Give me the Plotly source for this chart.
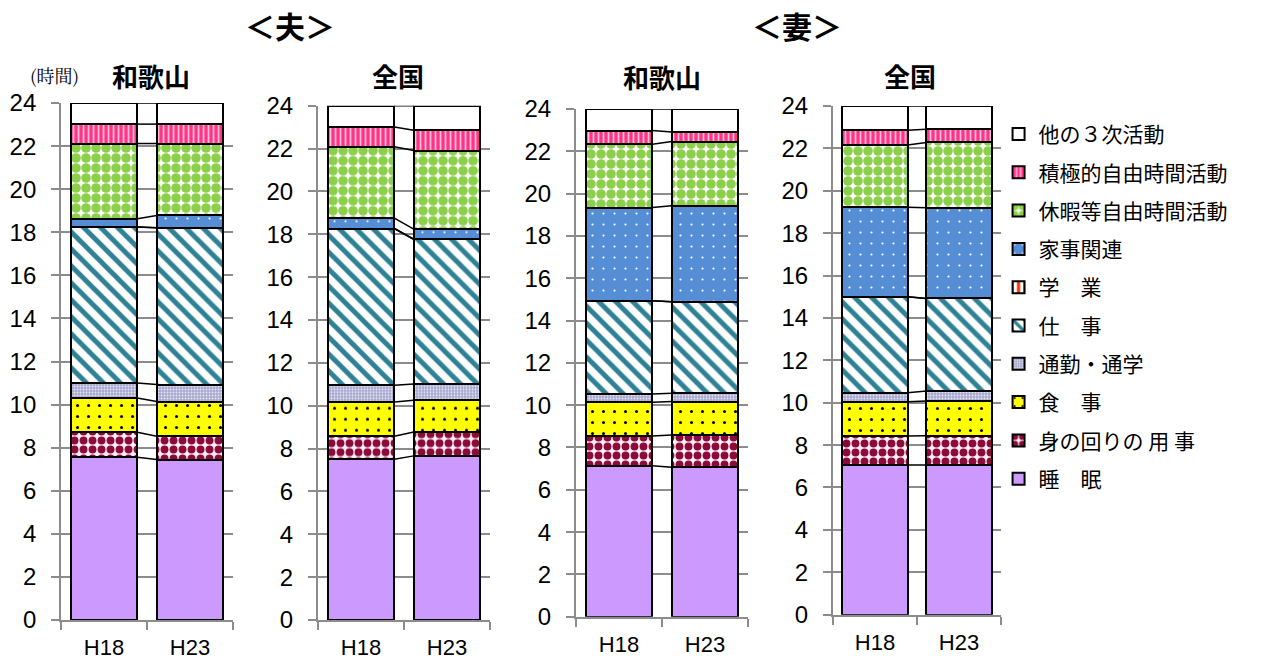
import plotly.graph_objects as go

years = ["H18", "H23"]
panels = ["夫・和歌山", "夫・全国", "妻・和歌山", "妻・全国"]
panel_titles = ["和歌山", "全国", "和歌山", "全国"]
categories = ["睡　眠", "身の回りの 用 事", "食　事", "通勤・通学", "仕　事",
              "学　業", "家事関連", "休暇等自由時間活動", "積極的自由時間活動", "他の３次活動"]

# values per panel: [H18, H23] for each category (hours)
sleep    = [[7.56, 7.45], [7.50, 7.66], [7.14, 7.06], [7.06, 7.06]]
care     = [[1.16, 1.08], [1.08, 1.11], [1.40, 1.53], [1.37, 1.38]]
meals    = [[1.59, 1.61], [1.60, 1.49], [1.60, 1.58], [1.62, 1.64]]
commute  = [[0.69, 0.79], [0.78, 0.75], [0.39, 0.39], [0.42, 0.47]]
work     = [[7.25, 7.28], [7.31, 6.76], [4.41, 4.33], [4.53, 4.37]]
study    = [[0.00, 0.00], [0.00, 0.00], [0.00, 0.00], [0.00, 0.00]]
housework= [[0.38, 0.57], [0.48, 0.47], [4.40, 4.54], [4.22, 4.28]]
leisure  = [[3.49, 3.34], [3.33, 3.67], [2.99, 3.03], [2.94, 3.08]]
active   = [[0.90, 0.90], [0.93, 0.94], [0.65, 0.46], [0.70, 0.62]]
other    = [[0.98, 0.98], [0.99, 1.15], [1.02, 1.08], [1.14, 1.10]]
series = [sleep, care, meals, commute, work, study, housework, leisure, active, other]


def pat(shape, fg, bg, size, solidity):
    return dict(shape=shape, fgcolor=fg, bgcolor=bg, size=size, solidity=solidity,
                fillmode="replace", fgopacity=1)


styles = [
    dict(color="#cc99ff", pattern=dict(shape="")),
    dict(color="#fff0f5", pattern=pat(".", "#8b0a3a", "#fff0f5", 9, 0.6)),
    dict(color="#ffff00", pattern=pat(".", "#000000", "#ffff00", 11, 0.06)),
    dict(color="#b0b0d6", pattern=pat(".", "#e8e8f4", "#a8a8d0", 3, 0.3)),
    dict(color="#ffffff", pattern=pat("\\", "#2f8296", "#ffffff", 12, 0.42)),
    dict(color="#ff3300", pattern=pat("|", "#ffffff", "#ff3300", 8, 0.5)),
    dict(color="#558ed5", pattern=pat(".", "#ffffff", "#558ed5", 11, 0.03)),
    dict(color="#ffffff", pattern=pat(".", "#8ccf4a", "#ffffff", 10, 0.72)),
    dict(color="#ff3385", pattern=pat("|", "#ffc2dc", "#ff3385", 5, 0.35)),
    dict(color="#ffffff", pattern=dict(shape="")),
]

x_domains = [(0.0483, 0.1843), (0.2516, 0.3877), (0.4557, 0.5918), (0.659, 0.7919)]
y_domains = [(0.0634, 0.8444), (0.0634, 0.8403), (0.0684, 0.8353), (0.0715, 0.8399)]
BAR_W = 0.775

fig = go.Figure()
xpos = [0, 1]
n = len(categories)
for p in range(4):
    xa = "x" if p == 0 else f"x{p+1}"
    ya = "y" if p == 0 else f"y{p+1}"
    for i, cat in enumerate(categories):
        st = styles[i]
        fig.add_trace(go.Bar(
            x=xpos, y=series[i][p], name=cat, xaxis=xa, yaxis=ya,
            width=BAR_W, marker=dict(color=st["color"], pattern=st["pattern"],
                                     line=dict(color="black", width=2)),
            legendgroup=cat, legendrank=100 + n - i,
            showlegend=(p == 0), hoverinfo="skip"))
    # connector lines between cumulative boundaries
    cum = [0.0, 0.0]
    for i in range(n):
        cum = [cum[0] + series[i][p][0], cum[1] + series[i][p][1]]
        fig.add_trace(go.Scatter(
            x=[xpos[0] + BAR_W / 2, xpos[1] - BAR_W / 2], y=list(cum),
            mode="lines", line=dict(color="black", width=1.5),
            xaxis=xa, yaxis=ya, showlegend=False, hoverinfo="skip"))

layout = dict(
    barmode="stack", width=1264, height=662, autosize=False,
    paper_bgcolor="white", plot_bgcolor="white",
    margin=dict(l=0, r=0, t=0, b=0, pad=0, autoexpand=False),
    font=dict(family="Liberation Sans, Arial, sans-serif", color="black"),
    legend=dict(x=0.79, y=0.828, xanchor="left", yanchor="top",
                traceorder="grouped", tracegroupgap=8,
                font=dict(size=21, family="Noto Sans CJK JP"),
                itemwidth=30, bgcolor="rgba(0,0,0,0)"),
    showlegend=True,
)
for p in range(4):
    sx = "" if p == 0 else str(p + 1)
    layout["xaxis" + sx] = dict(
        domain=list(x_domains[p]), anchor="y" + sx, range=[-0.5, 1.5],
        tickmode="array", tickvals=[0, 1], ticktext=years, ticks="",
        tickfont=dict(size=22), showline=True, linecolor="#8c8c8c", linewidth=2,
        showgrid=False, zeroline=False, fixedrange=True, ticklabelstandoff=7,
        automargin=False,
        minor=dict(tickmode="array", tickvals=[-0.5, 0.5, 1.5], ticks="outside",
                   ticklen=8, tickcolor="#8c8c8c", tickwidth=2, showgrid=False))
    layout["yaxis" + sx] = dict(
        domain=list(y_domains[p]), anchor="x" + sx, range=[0, 24],
        tickmode="linear", tick0=0, dtick=2, ticks="outside", ticklen=8,
        tickcolor="#8c8c8c", tickwidth=2, tickfont=dict(size=24),
        ticklabelstandoff=10,
        showline=True, linecolor="#8c8c8c", linewidth=2, automargin=False,
        showgrid=True, gridcolor="#8c8c8c", gridwidth=2, zeroline=False,
        fixedrange=True)
fig.update_layout(**layout)

ann = []
ann.append(dict(text="<b>＜夫＞</b>", x=290 / 1264, y=1 - 25 / 662, xref="paper", yref="paper",
                xanchor="center", yanchor="middle",
                showarrow=False, font=dict(size=30, family="Noto Sans CJK JP")))
ann.append(dict(text="<b>＜妻＞</b>", x=797 / 1264, y=1 - 25 / 662, xref="paper", yref="paper",
                xanchor="center", yanchor="middle",
                showarrow=False, font=dict(size=30, family="Noto Sans CJK JP")))
title_x = [151, 398, 662, 910]
title_y = [75, 75, 77, 75]
for p in range(4):
    ann.append(dict(text=f"<b>{panel_titles[p]}</b>", x=title_x[p] / 1264, y=1 - title_y[p] / 662,
                    xref="paper", yref="paper", showarrow=False,
                    xanchor="center", yanchor="middle",
                    font=dict(size=26, family="Noto Sans CJK JP")))
ann.append(dict(text="(時間)", x=54 / 1264, y=1 - 75 / 662, xref="paper", yref="paper",
                xanchor="center", yanchor="middle",
                showarrow=False, font=dict(size=18, family="Noto Serif CJK JP, Noto Sans CJK JP")))
fig.update_layout(annotations=ann)

fig.write_html("out.html")
